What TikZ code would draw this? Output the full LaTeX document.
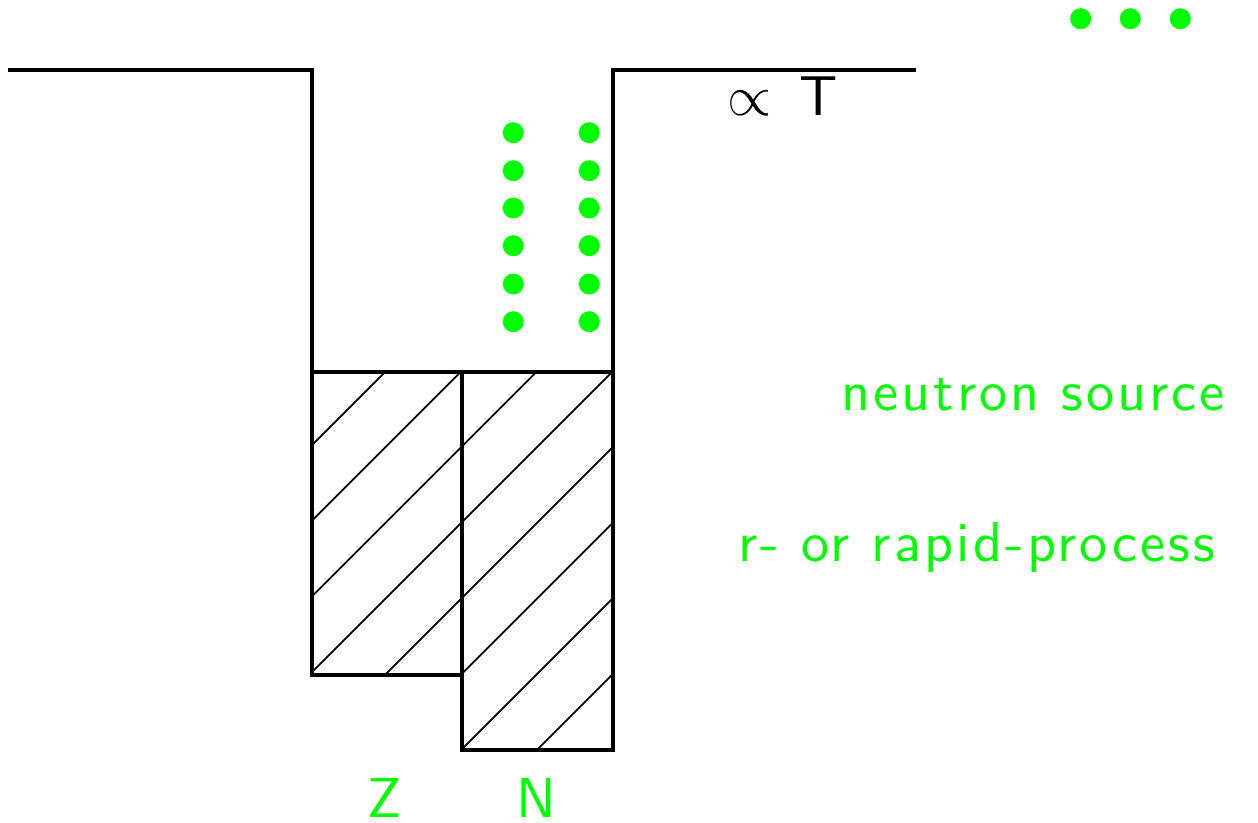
\documentclass[tikz,border=0pt]{standalone}
\usepackage{fontspec}
\newfontfamily\lbl{lmsans10-regular.otf}[LetterSpace=5.5]
\begin{document}
\begin{tikzpicture}[x=0.02cm,y=-0.02cm,
  wall/.style={line width=2.1pt,line join=miter},
  hatchline/.style={line width=1pt},
  dot/.style={fill=green,draw=none},
  lab/.style={inner sep=0pt,font=\lbl\fontsize{32}{36}\selectfont},
  glab/.style={lab,text=green}]
\useasboundingbox (0,0) rectangle (1258,822);
% hatching
\begin{scope}
  \clip (312,372) -- (613,372) -- (613,750) -- (462,750) -- (462,675) -- (312,675) -- cycle;
  \foreach \c in {757,832.7,908.4,984.1,1059.8,1135.5,1211.2,1286.9}
    \draw[hatchline] (\c-300,300) -- (\c-800,800);
\end{scope}
% walls
\draw[wall] (8,70) -- (312,70) -- (312,675) -- (462,675) -- (462,750) -- (613,750) -- (613,70) -- (916,70);
\draw[wall] (312,372) -- (613,372);
\draw[wall] (462,372) -- (462,675);
% dots
\foreach \y in {132.7,170.7,208,245.7,284,321.7}{
  \fill[dot] (513.3,\y) circle[radius=0.21cm];
  \fill[dot] (589.3,\y) circle[radius=0.21cm];
}
\foreach \x in {1080.7,1130.3,1180.3}
  \fill[dot] (\x,18.7) circle[radius=0.21cm];
% labels
\node[lab,anchor=base west] (prop) at (727,115) {\scalebox{1.3}{$\propto$}\hspace{0.55cm}T};
\node[glab,anchor=base west] (ns) at (841,410.7) {neutron source};
\node[glab,anchor=base west] (rp) at (738,561.7) {r- or rapid-process};
\node[glab,anchor=base] (zl) at (385,817) {Z};
\node[glab,anchor=base] (nl) at (536,817) {N};
\end{tikzpicture}
\end{document}
